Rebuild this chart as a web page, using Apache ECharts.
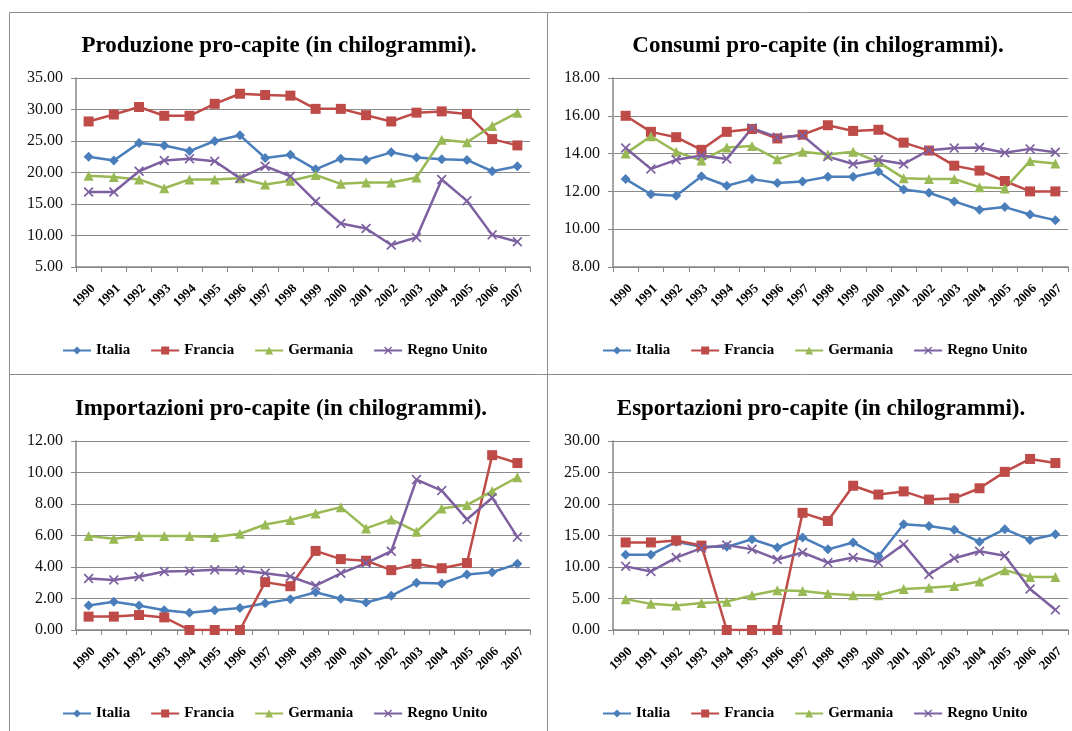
<!DOCTYPE html>
<html>
<head>
<meta charset="utf-8">
<script src="https://cdn.jsdelivr.net/npm/echarts@6/dist/echarts.min.js"></script>
<style>html,body{margin:0;padding:0;background:#fff}#c{width:1072px;height:731px}</style>
</head>
<body>
<div id="c"></div>
<script>
var years = ['1990','1991','1992','1993','1994','1995','1996','1997','1998','1999','2000','2001','2002','2003','2004','2005','2006','2007'];
var seriesNames = ['Italia','Francia','Germania','Regno Unito'];
var titles = ['Produzione pro-capite (in chilogrammi).','Consumi pro-capite (in chilogrammi).','Importazioni pro-capite (in chilogrammi).','Esportazioni pro-capite (in chilogrammi).'];

// Produzione
var prodItalia   = [22.5,21.9,24.7,24.3,23.4,25.0,25.9,22.3,22.8,20.5,22.2,22.0,23.2,22.4,22.1,22.0,20.2,21.0];
var prodFrancia  = [28.1,29.2,30.4,29.0,29.0,30.9,32.5,32.3,32.2,30.1,30.1,29.1,28.1,29.5,29.7,29.3,25.3,24.3];
var prodGermania = [19.5,19.3,18.9,17.5,18.9,18.9,19.1,18.1,18.7,19.6,18.2,18.4,18.4,19.2,25.2,24.8,27.4,29.5];
var prodRegno    = [16.9,16.9,20.2,21.9,22.2,21.8,19.1,21.0,19.4,15.4,11.9,11.1,8.5,9.7,18.9,15.5,10.1,9.0];

// Consumi
var consItalia   = [12.65,11.85,11.77,12.8,12.3,12.65,12.45,12.53,12.78,12.78,13.05,12.1,11.93,11.47,11.03,11.17,10.78,10.48];
var consFrancia  = [16.0,15.15,14.87,14.2,15.15,15.3,14.8,15.0,15.5,15.2,15.26,14.58,14.16,13.36,13.1,12.55,12.0,12.0];
var consGermania = [14.0,14.92,14.1,13.63,14.32,14.4,13.7,14.1,13.95,14.1,13.55,12.7,12.66,12.66,12.22,12.16,13.61,13.47];
var consRegno    = [14.3,13.19,13.67,13.9,13.72,15.35,14.87,14.96,13.84,13.45,13.67,13.45,14.18,14.29,14.32,14.05,14.25,14.07];

// Importazioni
var impItalia   = [1.55,1.8,1.55,1.25,1.1,1.25,1.4,1.7,1.96,2.4,1.98,1.75,2.17,3.0,2.95,3.52,3.67,4.2];
var impFrancia  = [0.85,0.85,0.95,0.8,0,0,0,3.04,2.78,5.02,4.5,4.4,3.8,4.2,3.92,4.25,11.1,10.6];
var impGermania = [5.97,5.8,5.97,5.97,5.97,5.9,6.11,6.7,6.98,7.4,7.8,6.45,7.02,6.24,7.72,7.93,8.82,9.7];
var impRegno    = [3.27,3.18,3.38,3.71,3.75,3.82,3.8,3.61,3.4,2.82,3.6,4.25,5.0,9.55,8.85,7.02,8.4,5.9];

// Esportazioni
var espItalia   = [11.95,11.95,14.0,13.2,13.2,14.4,13.1,14.7,12.8,13.9,11.7,16.8,16.5,15.9,14.0,16.0,14.3,15.2];
var espFrancia  = [13.9,13.9,14.2,13.4,0,0,0,18.6,17.3,22.9,21.5,22.0,20.7,20.9,22.5,25.1,27.15,26.5];
var espGermania = [4.9,4.15,3.9,4.3,4.5,5.5,6.3,6.2,5.75,5.5,5.5,6.5,6.7,7.0,7.7,9.5,8.4,8.4];
var espRegno    = [10.1,9.3,11.5,13.0,13.5,12.8,11.2,12.3,10.7,11.5,10.7,13.6,8.8,11.4,12.5,11.8,6.5,3.2];

var yMins = [5, 8, 0, 0];
var yMaxs = [35, 18, 12, 30];
var yIntervals = [5, 2, 2, 5];

var panelData = [
  [prodItalia, prodFrancia, prodGermania, prodRegno],
  [consItalia, consFrancia, consGermania, consRegno],
  [impItalia, impFrancia, impGermania, impRegno],
  [espItalia, espFrancia, espGermania, espRegno]
];

var colors = ['#4A7EBB', '#BE4B48', '#98B954', '#7D60A0'];
var xPath = 'path://M0,1.2L1.2,0L5,3.8L8.8,0L10,1.2L6.2,5L10,8.8L8.8,10L5,6.2L1.2,10L0,8.8L3.8,5Z';
var symbols = ['diamond', 'rect', 'triangle', xPath];
var symbolSizes = [10, 10, 10, 10];

var SERIF = '"Liberation Serif", "DejaVu Serif", serif';

// layout
var grids = [
  {left: 76, top: 78, width: 454, height: 189},
  {left: 613, top: 78, width: 455, height: 189},
  {left: 76, top: 441, width: 454, height: 189},
  {left: 613, top: 441, width: 455, height: 189}
];
var titlePos = [{x: 274, y: 30}, {x: 813, y: 30}, {x: 276, y: 393}, {x: 816, y: 393}];
var legendPos = [{x: 57, y: 338}, {x: 597, y: 338}, {x: 57, y: 701}, {x: 597, y: 701}];

var option = {
  animation: false,
  backgroundColor: '#fff',
  color: colors,
  title: [], legend: [], grid: [], xAxis: [], yAxis: [], series: [],
  graphic: [
    {type: 'line', shape: {x1: 9.5, y1: 12.5, x2: 1072, y2: 12.5}, style: {stroke: '#8c8c8c', lineWidth: 1}},
    {type: 'line', shape: {x1: 9.5, y1: 12.5, x2: 9.5, y2: 731}, style: {stroke: '#8c8c8c', lineWidth: 1}},
    {type: 'line', shape: {x1: 547.5, y1: 12.5, x2: 547.5, y2: 731}, style: {stroke: '#8c8c8c', lineWidth: 1}},
    {type: 'line', shape: {x1: 9.5, y1: 374.5, x2: 1072, y2: 374.5}, style: {stroke: '#8c8c8c', lineWidth: 1}}
  ]
};

for (var p = 0; p < 4; p++) {
  option.title.push({
    text: titles[p], left: titlePos[p].x, top: titlePos[p].y, textAlign: 'center',
    textStyle: {fontFamily: SERIF, fontWeight: 'bold', fontSize: 23, color: '#000'}
  });
  option.grid.push(grids[p]);
  option.xAxis.push({
    type: 'category', gridIndex: p, data: years, boundaryGap: true,
    axisLine: {lineStyle: {color: '#868686', width: 1.5}},
    axisTick: {show: true, length: 5, lineStyle: {color: '#868686'}},
    axisLabel: {rotate: 45, interval: 0, fontFamily: SERIF, fontWeight: 'bold', fontSize: 13, color: '#000', margin: 15,
      verticalAlign: 'top'}
  });
  option.yAxis.push({
    type: 'value', gridIndex: p, min: yMins[p], max: yMaxs[p], interval: yIntervals[p],
    axisLine: {show: true, lineStyle: {color: '#868686', width: 1.5}},
    axisTick: {show: true, length: 5, lineStyle: {color: '#868686'}},
    splitLine: {lineStyle: {color: '#8a8a8a', width: 1.2}},
    axisLabel: {fontFamily: SERIF, fontSize: 16, color: '#111', margin: 13,
      formatter: function (v) { return v.toFixed(2); }}
  });
  option.legend.push({
    left: legendPos[p].x, top: legendPos[p].y,
    data: seriesNames.slice(),
    itemWidth: 28, itemHeight: 10, itemGap: 20,
    textStyle: {fontFamily: SERIF, fontWeight: 'bold', fontSize: 15, color: '#000'}
  });
  for (var s = 0; s < 4; s++) {
    option.series.push({
      type: 'line', name: seriesNames[s], xAxisIndex: p, yAxisIndex: p,
      data: panelData[p][s], symbol: symbols[s], symbolSize: symbolSizes[s],
      showAllSymbol: true,
      lineStyle: {color: colors[s], width: 2.5},
      itemStyle: {color: colors[s]}
    });
  }
}

var chart = echarts.init(document.getElementById('c'), null, {renderer: 'canvas'});
chart.setOption(option);
</script>
</body>
</html>
